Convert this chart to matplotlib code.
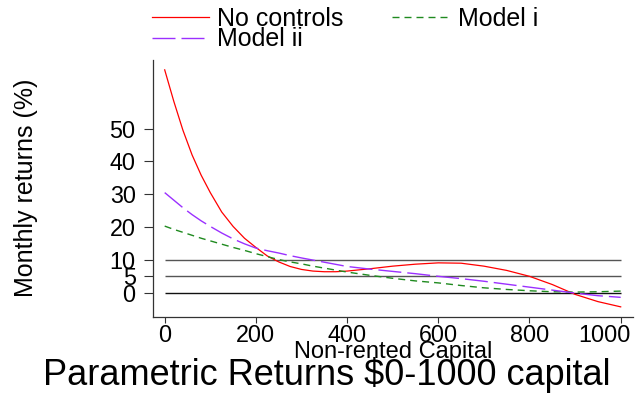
import matplotlib
matplotlib.use("Agg")
import matplotlib.pyplot as plt
from matplotlib.transforms import ScaledTranslation

plt.rcParams['font.family'] = ['Liberation Sans', 'DejaVu Sans']
plt.rcParams['lines.scale_dashes'] = False

# ---- data ----
capital = [0, 20, 40, 60, 80, 100, 125, 150, 175, 200, 225, 250, 275, 300, 325,
           350, 375, 400, 450, 500, 550, 600, 650, 700, 750, 800, 850, 900, 950, 1000]
no_controls = [67.9, 58.3, 49.5, 42.0, 35.8, 30.5, 24.6, 20.2, 16.6, 13.8, 11.2, 9.4,
               8.0, 7.1, 6.6, 6.4, 6.4, 6.6, 7.3, 8.1, 8.7, 9.1, 9.0, 8.1, 6.8, 5.0,
               2.5, -0.5, -2.7, -4.3]
model_i = [20.3, 19.3, 18.4, 17.5, 16.6, 15.8, 14.8, 13.8, 12.9, 11.9, 11.0, 10.1,
           9.4, 8.8, 8.1, 7.5, 6.9, 6.3, 5.3, 4.4, 3.6, 3.0, 2.2, 1.5, 1.0, 0.6,
           0.3, 0.2, 0.3, 0.5]
model_ii = [30.5, 28.2, 25.9, 23.8, 21.9, 20.2, 18.2, 16.4, 14.9, 13.6, 12.8, 12.1,
            11.3, 10.6, 9.95, 9.3, 8.65, 8.0, 7.2, 6.5, 5.8, 5.0, 4.3, 3.5, 2.6, 1.7,
            0.8, -0.1, -0.9, -1.4]
ref_levels = [0, 5, 10]
ref_colors = ['#111111', '#555555', '#555555']
ref_range = [0, 1000]
yticks = [0, 5, 10, 20, 30, 40, 50]
xticks = [0, 200, 400, 600, 800, 1000]
labels = ['No controls', 'Model i', 'Model ii']

W, H = 635, 394
PX = 0.72  # points per pixel at dpi 100

fig = plt.figure(figsize=(W / 100, H / 100), dpi=100)
left, right, top, bottom = 152.7, 633, 60, 316.7
ax = fig.add_axes([left / W, 1 - bottom / H, (right - left) / W, (bottom - top) / H])

for lvl, col in zip(ref_levels, ref_colors):
    ax.hlines(lvl, ref_range[0], ref_range[1], colors=col, lw=1.0, zorder=1)

l_red, = ax.plot(capital, no_controls, color='#ff0000', lw=0.9, label=labels[0], zorder=3)
l_grn, = ax.plot(capital, model_i, color='#1f8a1f', lw=1.0, label=labels[1], zorder=3)
l_grn.set_dashes([7 * PX, 5 * PX])
l_pur, = ax.plot(capital, model_ii, color='#9b30ff', lw=1.0, label=labels[2], zorder=3)
l_pur.set_dashes([23 * PX, 6 * PX])

ax.set_xlim(-26.3, 1027)
ax.set_ylim(-7.3, 70.9)
ax.set_xticks(xticks)
ax.set_yticks(yticks)
ax.set_xticklabels([str(v) for v in xticks])
ax.set_yticklabels([str(v) for v in yticks])
ax.tick_params(axis='y', length=9 * PX, width=0.8, pad=8 * PX, labelsize=16.8, color='#333333')
ax.tick_params(axis='x', length=6 * PX, width=0.8, pad=1.5 * PX, labelsize=16.8, color='#333333')
for s in ['top', 'right']:
    ax.spines[s].set_visible(False)
for s in ['left', 'bottom']:
    ax.spines[s].set_linewidth(0.9)
    ax.spines[s].set_color('#333333')

# last x tick label is pulled inward so it stays inside the figure
last = ax.get_xticklabels()[-1]
last.set_transform(last.get_transform() + ScaledTranslation(-16.5 / 100, 0, fig.dpi_scale_trans))

fig.text(392.7 / W, 1 - 358.3 / H, 'Non-rented Capital', ha='center', va='baseline', fontsize=17)
fig.text(33.3 / W, 1 - 188 / H, 'Monthly returns (%)', rotation=90, rotation_mode='anchor',
         ha='center', va='baseline', fontsize=18)
fig.text(326.5 / W, 1 - 385 / H, 'Parametric Returns $0-1000 capital', ha='center',
         va='baseline', fontsize=26)

leg = ax.legend([l_red, l_pur, l_grn], [labels[0], labels[2], labels[1]], ncol=2,
                loc='upper left', bbox_to_anchor=(151.7 / W, 1 - 7 / H),
                bbox_transform=fig.transFigure, frameon=False, borderpad=0,
                borderaxespad=0, fontsize=18, handlelength=2.29, handletextpad=0.33,
                columnspacing=1.94, labelspacing=-0.14)

fig.savefig('out.png', dpi=100)
